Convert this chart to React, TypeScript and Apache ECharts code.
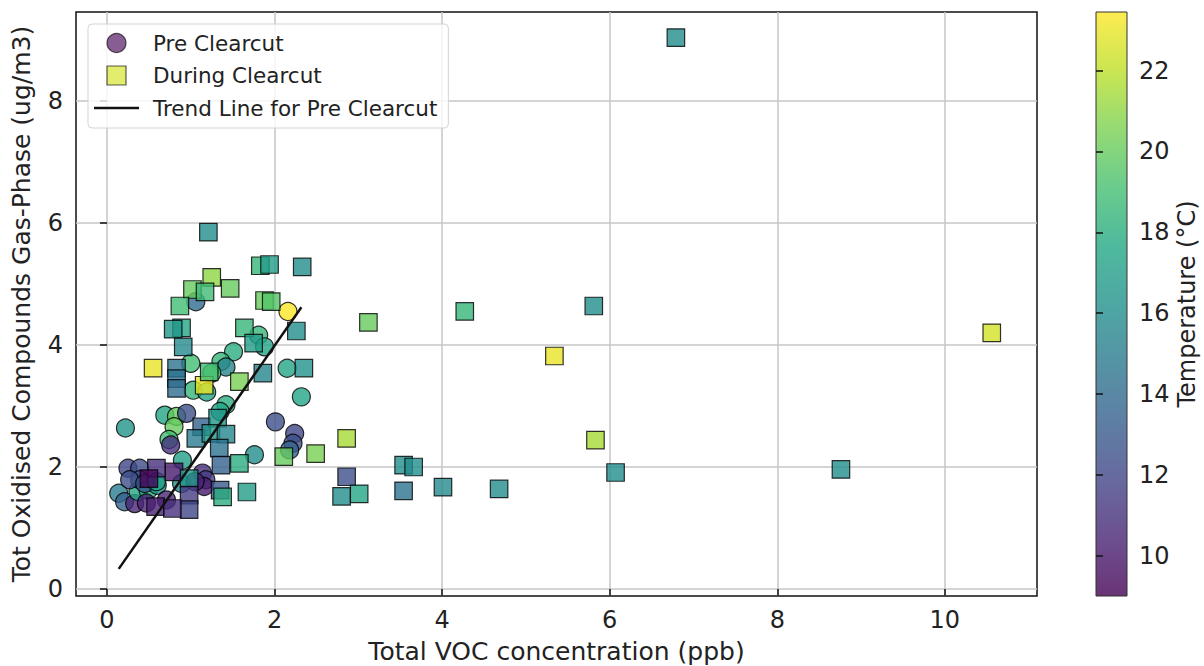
import React, { useEffect, useRef } from 'react';
import * as echarts from 'echarts';

// Pre clearcut samples: total VOC (ppb), oxidised compounds (ug/m3), temperature (°C)
const preVOC = [
  1.06, 2.16, 1.81, 1.88, 1.51, 1.36, 1.42, 2.15, 1.0, 1.25, 2.32, 1.03, 1.19, 1.42, 1.35,
  0.69, 0.83, 0.95, 0.8, 0.74, 0.76, 2.01, 0.22, 2.24, 2.22, 2.18, 1.76, 0.9, 0.25, 0.39,
  0.14, 0.21, 0.33, 0.37, 0.39, 0.27, 0.49, 0.6, 1.14, 1.18, 1.16, 0.71, 0.89, 0.45, 0.47,
  1.05, 0.59,
];
const preOxidised = [
  4.71, 4.55, 4.16, 3.97, 3.89, 3.73, 3.64, 3.62, 3.7, 3.54, 3.15, 3.26, 3.23, 3.02, 2.91,
  2.85, 2.83, 2.88, 2.66, 2.45, 2.36, 2.74, 2.64, 2.55, 2.39, 2.28, 2.2, 2.11, 1.98, 1.98,
  1.57, 1.43, 1.4, 1.6, 1.79, 1.79, 1.62, 1.7, 1.9, 1.79, 1.68, 1.46, 1.73, 1.73, 1.41,
  1.76, 1.76,
];
const preTemp = [
  14, 23.4, 18.5, 17.5, 18, 18.5, 15.5, 17.5, 19, 19.5, 17.5, 18.5, 17.5, 18, 17.5,
  17.5, 20, 12.5, 20, 19, 11, 12.5, 16.5, 12, 12.5, 13.5, 16, 17, 12, 12.3,
  15, 13.5, 10.5, 17.5, 12.5, 12.5, 18, 16.5, 11, 11.5, 10, 10.5, 16, 13, 10.5,
  10.5, 17,
];

// During clearcut samples
const duringVOC = [
  3.12, 4.27, 5.81, 5.34, 5.83, 6.07, 4.68, 4.01, 3.54, 3.54, 3.66, 2.86, 2.8, 3.01, 2.86,
  2.49, 2.35, 2.26, 6.79, 10.56, 8.76,
  1.21, 1.83, 1.94, 2.33, 1.25, 1.02, 1.47, 1.17, 0.87, 1.88, 1.96, 0.89, 0.79, 1.64, 0.91,
  1.75, 0.55, 0.83, 0.83, 0.83, 1.16, 1.22, 1.58, 1.86, 1.13, 1.32, 1.06, 1.24, 1.42, 1.34,
  1.36, 1.58, 1.35, 1.38, 1.67, 0.59, 0.5, 0.8, 0.98, 0.98, 0.98, 0.58, 0.78, 2.11,
];
const duringOxidised = [
  4.37, 4.55, 4.64, 3.82, 2.44, 1.91, 1.64, 1.67, 1.61, 2.03, 2.0, 1.84, 1.52, 1.56, 2.47,
  2.22, 3.62, 4.23, 9.04, 4.2, 1.96,
  5.85, 5.3, 5.32, 5.28, 5.11, 4.91, 4.93, 4.87, 4.64, 4.73, 4.71, 4.28, 4.26, 4.28, 3.97,
  4.03, 3.62, 3.62, 3.45, 3.29, 3.34, 3.56, 3.4, 3.54, 2.66, 2.8, 2.47, 2.55, 2.54, 2.31,
  2.03, 2.06, 1.62, 1.51, 1.59, 1.98, 1.81, 1.92, 1.81, 1.54, 1.3, 1.35, 1.32, 2.17,
];
const duringTemp = [
  20, 18.5, 16, 23, 21.5, 16, 16, 15.8, 14.5, 16, 16, 12.5, 16, 17.5, 21.5,
  20.5, 16.3, 16, 16, 22.5, 16,
  16, 18.5, 17, 16, 21, 20, 20, 18.8, 19, 20, 19.5, 17.5, 16.5, 18.5, 15.8,
  17, 23, 14.5, 14.5, 14, 23, 19, 20.5, 15.5, 13.5, 16.5, 15, 16.5, 15.5, 14.5,
  13.5, 18, 13, 18, 17, 11, 9.2, 10, 16.5, 11.5, 12, 10.3, 11, 20,
];

// Linear trend fitted to the pre clearcut samples (end points)
const trendVOC = [0.14, 2.32];
const trendOxidised = [0.33, 4.62];

const xTicks = [0, 2, 4, 6, 8, 10];
const yTicks = [0, 2, 4, 6, 8];
const tempTicks = [10, 12, 14, 16, 18, 20, 22];

const viridis = [
  '#440154', '#482475', '#414487', '#355f8d', '#2a788e', '#21918c',
  '#22a884', '#44bf70', '#7ad151', '#bddf26', '#fde725',
];

const FONT = 'DejaVu Sans';

function withAlpha(hex: string, a: number) {
  const n = parseInt(hex.slice(1), 16);
  return `rgba(${(n >> 16) & 255},${(n >> 8) & 255},${n & 255},${a})`;
}

export default function App() {
  const ref = useRef<HTMLDivElement>(null);

  useEffect(() => {
    if (!ref.current) return;
    const chart = echarts.init(ref.current, undefined, { renderer: 'svg' });

    const pre = preVOC.map((x, i) => [x, preOxidised[i], preTemp[i]]);
    const during = duringVOC.map((x, i) => [x, duringOxidised[i], duringTemp[i]]);
    const trend = trendVOC.map((x, i) => [x, trendOxidised[i]]);

    const barGradient = new echarts.graphic.LinearGradient(
      0, 1, 0, 0,
      viridis.map((c, i) => ({ offset: i / (viridis.length - 1), color: withAlpha(c, 0.8) }))
    );

    const tickText = { fontFamily: FONT, fontSize: 24, color: '#222' };
    const nameText = { fontFamily: FONT, fontSize: 25, color: '#222' };

    chart.setOption({
      animation: false,
      backgroundColor: '#fff',
      textStyle: { fontFamily: FONT },
      grid: [
        {
          left: 76, right: 167, top: 12, bottom: 70,
          show: true, borderColor: '#111', borderWidth: 1.5,
          containLabel: false, outerBoundsMode: 'none',
        },
        {
          left: 1096, width: 31, top: 12, bottom: 70,
          show: true, borderColor: '#333', borderWidth: 1,
          backgroundColor: barGradient,
          containLabel: false, outerBoundsMode: 'none',
        },
      ],
      xAxis: [
        {
          type: 'value', gridIndex: 0, min: -0.37, max: 11.1,
          axisLine: { show: false },
          axisTick: { show: true, length: 7, inside: false, customValues: xTicks, lineStyle: { color: '#111', width: 1.5 } },
          axisLabel: { customValues: xTicks, margin: 12, ...tickText },
          splitLine: { show: true, lineStyle: { color: '#c6c6c6', width: 1.5 } },
          name: 'Total VOC concentration (ppb)',
          nameLocation: 'middle', nameGap: 43,
          nameTextStyle: nameText,
        },
        { type: 'value', gridIndex: 1, min: 0, max: 1, show: false },
      ],
      yAxis: [
        {
          type: 'value', gridIndex: 0, min: -0.115, max: 9.46,
          axisLine: { show: false },
          axisTick: { show: true, length: 7, inside: false, customValues: yTicks, lineStyle: { color: '#111', width: 1.5 } },
          axisLabel: { customValues: yTicks, margin: 13, ...tickText },
          splitLine: { show: true, lineStyle: { color: '#c6c6c6', width: 1.5 } },
          name: 'Tot Oxidised Compounds Gas-Phase (ug/m3)',
          nameLocation: 'middle', nameGap: 42, nameRotate: 90,
          nameTextStyle: nameText,
        },
        {
          type: 'value', gridIndex: 1, position: 'right', min: 9.0, max: 23.45,
          axisLine: { show: false },
          axisTick: { show: true, length: 7, inside: false, customValues: tempTicks, lineStyle: { color: '#111', width: 1.5 } },
          axisLabel: { customValues: tempTicks, margin: 12, ...tickText },
          splitLine: { show: false },
          name: 'Temperature (°C)',
          nameLocation: 'middle', nameGap: 48, nameRotate: 90,
          nameTextStyle: { ...nameText, fontSize: 24 },
        },
      ],
      visualMap: {
        type: 'continuous', show: false, min: 9.0, max: 23.45,
        dimension: 2, seriesIndex: [0, 1],
        inRange: { color: viridis },
      },
      legend: {
        orient: 'vertical', left: 88, top: 24,
        padding: [8, 11, 9, 6], itemGap: 10.5,
        itemWidth: 45, itemHeight: 19,
        symbolKeepAspect: true,
        backgroundColor: 'rgba(255,255,255,0.8)',
        borderColor: '#d4d4d4', borderWidth: 1, borderRadius: 4,
        selectedMode: false,
        textStyle: { fontFamily: FONT, fontSize: 21.5, color: '#222', padding: [0, 0, 0, 9] },
        data: [
          {
            name: 'Pre Clearcut', icon: 'circle',
            itemStyle: { color: 'rgba(68,1,84,0.8)', borderColor: 'rgba(0,0,0,0.8)', borderWidth: 1.2 },
          },
          {
            name: 'During Clearcut', icon: 'path://M0,0 L18,0 L18,18 L0,18 Z',
            itemStyle: { color: 'rgba(210,226,27,0.8)', borderColor: 'rgba(0,0,0,0.8)', borderWidth: 1.2 },
          },
          {
            name: 'Trend Line for Pre Clearcut', icon: 'path://M0,0 L45,0 L45,2.5 L0,2.5 Z',
            itemStyle: { color: '#111', borderWidth: 0 },
          },
        ],
      },
      series: [
        {
          name: 'Pre Clearcut', type: 'scatter', xAxisIndex: 0, yAxisIndex: 0,
          symbol: 'circle', symbolSize: 18,
          itemStyle: { opacity: 0.8, borderColor: '#000', borderWidth: 1.2 },
          data: pre,
        },
        {
          name: 'During Clearcut', type: 'scatter', xAxisIndex: 0, yAxisIndex: 0,
          symbol: 'rect', symbolSize: 17.5,
          itemStyle: { opacity: 0.8, borderColor: '#000', borderWidth: 1.2 },
          data: during,
        },
        {
          name: 'Trend Line for Pre Clearcut', type: 'line', xAxisIndex: 0, yAxisIndex: 0,
          symbol: 'none', showSymbol: false,
          lineStyle: { color: '#111', width: 2.5 },
          itemStyle: { color: '#111' },
          data: trend, z: 5,
        },
      ],
    });

    return () => chart.dispose();
  }, []);

  return (
    <div
      ref={ref}
      style={{ position: 'fixed', left: 0, top: 0, width: 1204, height: 666, background: '#fff' }}
    />
  );
}
